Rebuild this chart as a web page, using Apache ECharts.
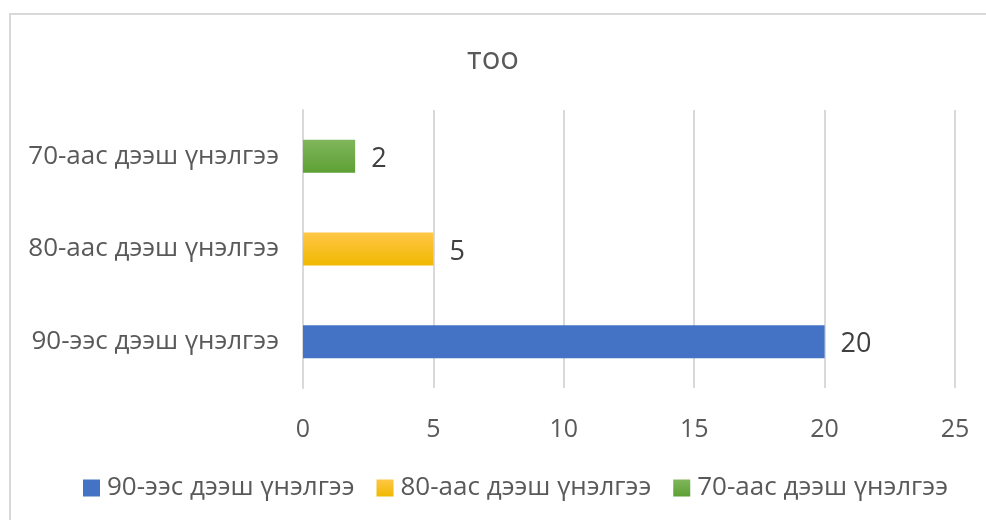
<!DOCTYPE html>
<html>
<head>
<meta charset="utf-8">
<script src="https://cdn.jsdelivr.net/npm/echarts@6/dist/echarts.min.js"></script>
<style>
  html, body { margin: 0; padding: 0; background: #fff; }
  #main { width: 986px; height: 520px; }
</style>
</head>
<body>
<div id="main"></div>
<script>
var categories = ['90-ээс дээш үнэлгээ', '80-аас дээш үнэлгээ', '70-аас дээш үнэлгээ'];
var values = [20, 5, 2];
var xTicks = [0, 5, 10, 15, 20, 25];

var fills = [
    '#4472c4',
    new echarts.graphic.LinearGradient(0, 0, 0, 1, [
        { offset: 0, color: '#ffc746' }, { offset: 1, color: '#f0b800' }
    ]),
    new echarts.graphic.LinearGradient(0, 0, 0, 1, [
        { offset: 0, color: '#80b65c' }, { offset: 1, color: '#5da034' }
    ])
];

// одна серия на категорию, чтобы легенда показывала все три
var series = categories.map(function (name, i) {
    var d = categories.map(function (c, j) { return j === i ? values[i] : null; });
    return {
        name: name,
        type: 'bar',
        stack: 'all',
        barWidth: 33,
        data: d,
        itemStyle: { color: fills[i] },
        label: {
            show: true,
            position: 'right',
            distance: 16,
            offset: [0, 3],
            fontSize: 27,
            color: '#404040',
            fontFamily: 'Open Sans'
        }
    };
});

var option = {
    animation: false,
    textStyle: { fontFamily: 'Open Sans' },
    title: {
        text: 'тоо',
        left: 'center',
        top: 40,
        textStyle: { fontSize: 31, fontWeight: 'normal', color: '#595959' }
    },
    graphic: [{
        type: 'rect',
        shape: { x: 10, y: 14, width: 990, height: 520 },
        style: { fill: 'none', stroke: '#d9d9d9', lineWidth: 2 }
    }],
    legend: {
        bottom: 14,
        left: 78,
        itemWidth: 17,
        itemHeight: 17,
        itemGap: 22,
        icon: 'rect',
        textStyle: { fontSize: 26, color: '#595959', padding: [0, 0, 0, 2] },
        data: categories
    },
    grid: { left: 303, right: 31, top: 110, bottom: 132 },
    xAxis: {
        type: 'value',
        min: 0,
        max: xTicks[xTicks.length - 1],
        interval: 5,
        axisLine: { show: false },
        axisTick: { show: false },
        splitLine: { lineStyle: { color: '#d9d9d9', width: 2 } },
        axisLabel: { fontSize: 25, color: '#595959', margin: 29 }
    },
    yAxis: {
        type: 'category',
        data: categories,
        axisLine: { lineStyle: { color: '#d9d9d9', width: 2 } },
        axisTick: { show: false },
        axisLabel: { fontSize: 26, color: '#595959', margin: 24, padding: [6, 0, 0, 0] }
    },
    series: series
};

var myChart = echarts.init(document.getElementById('main'));
myChart.setOption(option);
</script>
</body>
</html>
